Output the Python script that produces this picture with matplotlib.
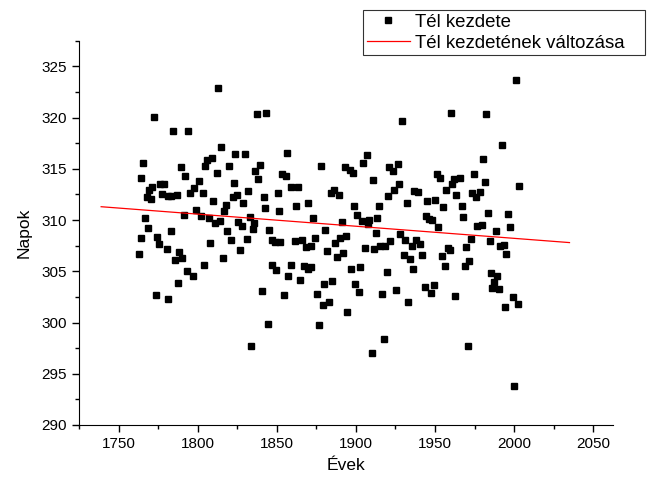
import matplotlib
matplotlib.use('Agg')
import matplotlib.pyplot as plt
from matplotlib.ticker import MultipleLocator

plt.rcParams['font.family'] = ['Liberation Sans', 'DejaVu Sans']

# years / start-of-winter days
years = [
    1772.6, 1784.1, 1794.2, 1765.6, 1789.2, 1764.5, 1792.2, 1771.3, 1769.2, 1776.4,
    1778.7, 1767.7, 1770.5, 1777.2, 1781.0, 1783.1, 1786.7, 1795.3, 1797.8, 1798.7,
    1791.3, 1767.0, 1768.9, 1783.3, 1764.0, 1774.5, 1775.5, 1780.6, 1762.9, 1788.4,
    1785.4, 1790.3, 1793.2, 1797.0, 1787.3, 1773.6, 1781.4,
    1812.8, 1837.7, 1814.9, 1823.8, 1829.6, 1806.1, 1809.0, 1804.8, 1819.8, 1812.0,
    1839.5, 1836.4, 1801.0, 1803.1, 1823.0, 1831.8, 1838.2, 1809.9, 1822.1, 1825.0,
    1828.8, 1817.9, 1816.6, 1801.8, 1806.9, 1811.1, 1814.1, 1825.8, 1828.0, 1833.0,
    1835.9, 1834.7, 1818.7, 1820.8, 1830.9, 1807.8, 1826.7, 1815.7, 1804.0, 1833.9,
    1843.5, 1856.4, 1877.9, 1853.5, 1855.6, 1859.1, 1863.2, 1841.7, 1850.5, 1842.5,
    1851.4, 1862.3, 1869.9, 1873.2, 1880.4, 1845.4, 1846.7, 1848.8, 1852.2, 1861.5,
    1865.7, 1868.2, 1871.6, 1874.1, 1881.7, 1847.1, 1849.7, 1859.3, 1857.3, 1864.9,
    1866.9, 1869.9, 1871.6, 1879.6, 1840.5, 1854.3, 1875.7, 1879.1, 1844.6, 1877.0,
    1906.8, 1904.7, 1893.0, 1896.0, 1898.1, 1921.1, 1910.6, 1884.0, 1886.1, 1889.1,
    1920.3, 1898.8, 1914.8, 1900.9, 1903.9, 1908.5, 1913.5, 1891.5, 1907.5, 1912.7,
    1893.7, 1889.9, 1887.0, 1892.0, 1887.8, 1905.8, 1911.7, 1915.5, 1918.4, 1921.8,
    1897.1, 1902.6, 1919.7, 1885.2, 1899.6, 1901.7, 1916.8, 1883.1, 1894.6, 1917.5,
    1909.9,
    1960.1, 1929.3, 1926.3, 1923.5, 1951.3, 1953.4, 1962.1, 1960.8, 1927.2, 1924.3,
    1957.1, 1936.9, 1939.4, 1932.3, 1944.9, 1950.0, 1955.0, 1963.0, 1944.0, 1946.2,
    1948.3, 1952.1, 1928.0, 1931.0, 1935.2, 1938.2, 1940.3, 1958.0, 1959.2, 1930.1,
    1934.3, 1941.5, 1954.2, 1936.1, 1956.1, 1925.6, 1943.5, 1949.4, 1947.3, 1962.5,
    1933.1,
    2001.2, 1982.5, 1992.2, 1980.4, 1974.5, 1966.0, 1981.4, 2002.9, 1973.6, 1975.8,
    1978.7, 1966.9, 1967.7, 1983.3, 1996.4, 1976.6, 1979.6, 1997.6, 1988.4, 1972.8,
    1969.8, 1984.6, 1991.3, 1993.5, 1995.1, 1971.5, 1969.0, 1985.4, 1989.2, 1987.1,
    1986.3, 1990.5, 1999.3, 2002.3, 1994.3, 1970.7, 2000.2,
]
days = [
    320.1, 318.7, 318.65, 315.6, 315.2, 314.1, 314.3, 313.2, 312.9, 313.5,
    313.5, 312.2, 312.1, 312.5, 312.3, 312.3, 312.45, 312.6, 313.1, 311.0,
    310.5, 310.2, 309.2, 308.9, 308.2, 308.35, 307.7, 307.15, 306.7, 306.9,
    306.1, 306.25, 305.0, 304.5, 303.9, 302.7, 302.25,
    322.9, 320.3, 317.1, 316.45, 316.45, 315.9, 316.05, 315.3, 315.3, 314.6,
    315.4, 314.75, 313.8, 312.6, 313.65, 312.8, 314.0, 311.9, 312.2, 312.45,
    311.7, 311.5, 310.9, 310.4, 310.2, 309.75, 309.9, 309.85, 309.45, 310.3,
    309.7, 309.1, 308.9, 308.05, 308.15, 307.8, 307.05, 306.3, 305.6, 297.7,
    320.4, 316.5, 315.3, 314.5, 314.3, 313.2, 313.2, 312.2, 312.6, 311.2,
    310.9, 311.35, 311.7, 310.2, 309.0, 309.0, 308.1, 307.9, 307.85, 307.95,
    308.1, 307.4, 307.5, 308.2, 306.95, 305.6, 305.1, 305.65, 304.55, 304.15,
    305.5, 305.2, 305.4, 303.8, 303.1, 302.7, 302.75, 301.7, 299.9, 299.75,
    316.3, 315.6, 315.2, 314.85, 314.6, 315.2, 313.9, 312.6, 312.9, 312.4,
    312.3, 311.35, 311.4, 310.5, 309.9, 310.0, 310.2, 309.8, 309.6, 308.75,
    308.45, 308.25, 307.8, 306.8, 306.4, 307.3, 307.2, 307.5, 307.45, 307.95,
    305.2, 305.4, 304.9, 304.1, 303.8, 303.0, 302.75, 302.0, 301.0, 298.35,
    297.0,
    320.4, 319.7, 315.5, 314.75, 314.5, 314.1, 314.0, 313.55, 313.55, 312.9,
    312.9, 312.8, 312.7, 311.7, 311.9, 312.0, 311.25, 312.45, 310.4, 310.15,
    310.0, 309.3, 308.6, 308.05, 307.5, 308.1, 307.65, 307.3, 307.05, 306.6,
    306.15, 306.6, 306.5, 305.25, 305.5, 303.2, 303.45, 303.7, 302.9, 302.6,
    302.0,
    323.7, 320.3, 317.3, 316.0, 314.5, 314.1, 313.7, 313.3, 312.65, 312.2,
    312.7, 311.35, 310.25, 310.7, 310.6, 309.4, 309.5, 309.3, 308.9, 308.15,
    307.4, 308.0, 307.5, 307.6, 306.7, 306.0, 305.5, 304.8, 304.55, 304.0,
    303.4, 303.3, 302.5, 301.8, 301.5, 297.7, 293.8,
]

# trend line end points
trend_years = [1739, 2035]
trend_days = [311.3, 307.8]

fig = plt.figure(figsize=(6.47, 4.82), dpi=100)
ax = fig.add_axes([79 / 647, 57 / 482, 534 / 647, 384.3 / 482])

ax.plot(years, days, 's', color='black', markersize=4.8, linestyle='none',
        label='Tél kezdete')
ax.plot(trend_years, trend_days, color='red', linewidth=0.9,
        label='Tél kezdetének változása')

ax.set_xlim(1725, 2062.5)
ax.set_ylim(290, 327.5)
ax.xaxis.set_major_locator(MultipleLocator(50))
ax.xaxis.set_minor_locator(MultipleLocator(25))
ax.yaxis.set_major_locator(MultipleLocator(5))
ax.yaxis.set_minor_locator(MultipleLocator(2.5))
ax.tick_params(which='major', direction='out', length=5, width=1, labelsize=11)
ax.tick_params(which='minor', direction='out', length=3, width=1)
ax.spines['top'].set_visible(False)
ax.spines['right'].set_visible(False)

ax.set_xlabel('Évek', fontsize=12.5, labelpad=5)
ax.set_ylabel('Napok', fontsize=12.5, labelpad=7)

leg = fig.legend(loc='upper left', bbox_to_anchor=(363 / 647, 1 - 10 / 482, 282 / 647, 0),
                 mode='expand', fontsize=13.4, frameon=True, fancybox=False,
                 borderpad=0.2, handlelength=2.3, handletextpad=0.3,
                 labelspacing=0.2, borderaxespad=0, markerscale=1.0)
leg.get_frame().set_edgecolor('black')
leg.get_frame().set_linewidth(0.8)

plt.savefig('out.png', dpi=100)
